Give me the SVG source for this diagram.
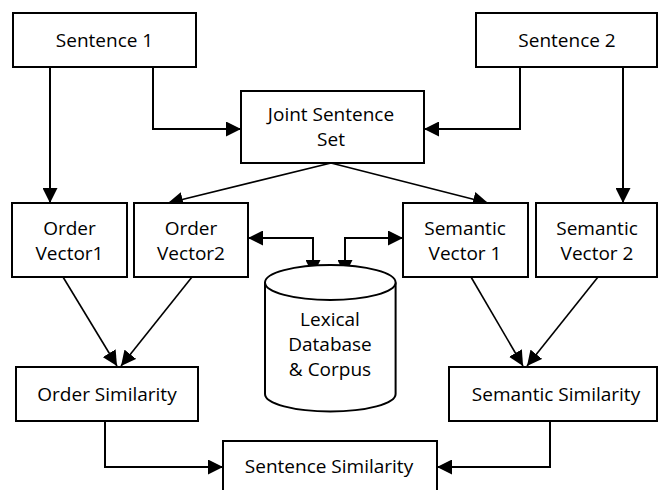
<svg xmlns="http://www.w3.org/2000/svg" width="658" height="490" viewBox="0 0 658 490">
<style>
.box{fill:#fff;stroke:#000;stroke-width:2}
.t{font-family:"Open Sans","Noto Sans",sans-serif;font-size:19px;fill:#000;text-anchor:middle}
.c{fill:none;stroke:#000;stroke-width:2}
.d{fill:none;stroke:#000;stroke-width:1.6}
</style>
<defs>
<marker id="ah" viewBox="0 0 15 15" refX="15" refY="7.5" markerWidth="15" markerHeight="15" markerUnits="userSpaceOnUse" orient="auto-start-reverse">
<path d="M0,0 L15,7.5 L0,15 z" fill="#000"/>
</marker>
</defs>
<rect width="658" height="490" fill="#fff"/>
<g id="connectors">
<path class="c" d="M50,67 V203" marker-end="url(#ah)"/>
<path class="c" d="M153,67 V129 H241" marker-end="url(#ah)"/>
<path class="c" d="M520,67 V129 H424" marker-end="url(#ah)"/>
<path class="c" d="M623,67 V203" marker-end="url(#ah)"/>
<path class="d" d="M331,163 L168,203" marker-end="url(#ah)"/>
<path class="d" d="M331,163 L488,203" marker-end="url(#ah)"/>
<path class="c" d="M248,238 H313 V275" marker-start="url(#ah)" marker-end="url(#ah)"/>
<path class="c" d="M403,238 H345 V275" marker-start="url(#ah)" marker-end="url(#ah)"/>
<path class="d" d="M63,277 L117,366" marker-end="url(#ah)"/>
<path class="d" d="M192,277 L121,366" marker-end="url(#ah)"/>
<path class="d" d="M471,277 L523,366" marker-end="url(#ah)"/>
<path class="d" d="M598,277 L527,366" marker-end="url(#ah)"/>
<path class="c" d="M105,421 V467 H223" marker-end="url(#ah)"/>
<path class="c" d="M550,421 V467 H437" marker-end="url(#ah)"/>
</g>
<g id="sentence1"><rect class="box" x="13" y="13" width="183" height="54"/><text class="t" x="104.5" y="47">Sentence 1</text></g>
<g id="sentence2"><rect class="box" x="476" y="13" width="181" height="54"/><text class="t" x="567" y="47">Sentence 2</text></g>
<g id="joint"><rect class="box" x="241" y="91" width="183" height="72"/><text class="t" x="331" y="121">Joint Sentence</text><text class="t" x="331" y="146">Set</text></g>
<g id="ordervec1"><rect class="box" x="12" y="203" width="115" height="74"/><text class="t" x="69.5" y="235">Order</text><text class="t" x="69.5" y="260">Vector1</text></g>
<g id="ordervec2"><rect class="box" x="134" y="203" width="114" height="74"/><text class="t" x="191" y="235">Order</text><text class="t" x="191" y="260">Vector2</text></g>
<g id="semvec1"><rect class="box" x="403" y="203" width="125" height="74"/><text class="t" x="465" y="235">Semantic</text><text class="t" x="465" y="260">Vector 1</text></g>
<g id="semvec2"><rect class="box" x="536" y="203" width="121" height="74"/><text class="t" x="597" y="235">Semantic</text><text class="t" x="597" y="260">Vector 2</text></g>
<g id="lexical">
<path class="box" d="M265,282.5 V394 A65.3,17.5 0 0 0 395.6,394 V282.5"/>
<ellipse class="box" cx="330.3" cy="282.5" rx="65.3" ry="17.5"/>
<text class="t" x="330" y="326">Lexical</text><text class="t" x="330" y="351">Database</text><text class="t" x="330" y="376">&amp; Corpus</text>
</g>
<g id="ordersim"><rect class="box" x="16" y="367" width="182" height="54"/><text class="t" x="107" y="401">Order Similarity</text></g>
<g id="semsim"><rect class="box" x="449" y="367" width="208" height="54"/><text class="t" x="556" y="401">Semantic Similarity</text></g>
<g id="sentsim"><rect class="box" x="223" y="441" width="214" height="60"/><text class="t" x="329" y="473">Sentence Similarity</text></g>
</svg>
